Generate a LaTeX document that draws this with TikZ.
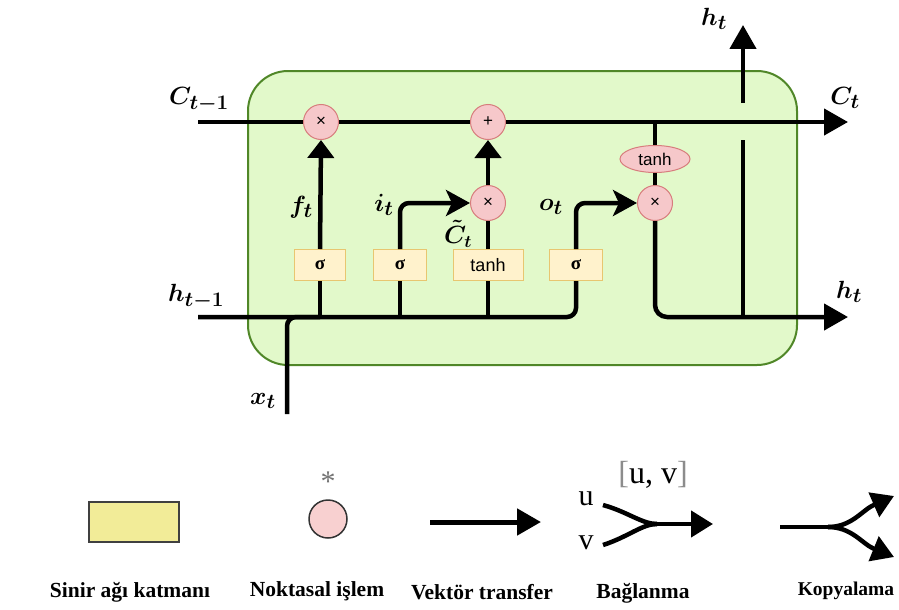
\documentclass[tikz,border=0pt]{standalone}
\usepackage{fontspec}
\setmainfont{Liberation Serif}
\newfontfamily\lsans{Liberation Sans}
\usetikzlibrary{arrows.meta,shapes.geometric}
\definecolor{cellfill}{RGB}{226,249,202}
\definecolor{celldraw}{RGB}{80,135,40}
\definecolor{opfill}{RGB}{246,200,202}
\definecolor{opdraw}{RGB}{215,125,125}
\definecolor{layfill}{RGB}{255,242,204}
\definecolor{laydraw}{RGB}{232,198,112}
\definecolor{legfill}{RGB}{242,236,152}
\definecolor{legcirc}{RGB}{248,208,208}
\tikzset{
  op/.style={circle,draw=opdraw,fill=opfill,line width=1pt,minimum size=35pt,inner sep=0pt,font=\lsans\fontsize{17}{17}\selectfont},
  opell/.style={ellipse,draw=opdraw,fill=opfill,line width=1pt,minimum width=70pt,minimum height=27pt,inner sep=0pt,font=\lsans\fontsize{17}{17}\selectfont},
  layer/.style={rectangle,draw=laydraw,fill=layfill,line width=1pt,minimum height=31pt,inner sep=0pt,font=\bfseries\fontsize{19}{19}\selectfont},
  wire/.style={line width=4.5pt,black},
  bigarr/.style={wire,-{Triangle[length=24pt,width=26pt]}},
  smarr/.style={wire,-{Triangle[length=18pt,width=26pt]}},
  hookarr/.style={wire,rounded corners=9pt,-{Stealth[length=24pt,width=26pt,inset=6pt]}},
  lbl/.style={font=\boldmath\fontsize{28}{28}\selectfont,inner sep=0pt},
  leglbl/.style={font=\bfseries\fontsize{21.5}{21.5}\selectfont,inner sep=0pt},
}
\begin{document}
\begin{tikzpicture}[x=1pt,y=-1pt]
\useasboundingbox (0,0) rectangle (899,610);
% cell
\node[draw=celldraw,fill=cellfill,line width=2pt,rounded corners=40pt,minimum width=549pt,minimum height=294pt,inner sep=0pt] (cell) at (522.5,218) {};
% operators
\node[op] (mf) at (321,122) {×};
\node[op] (pa) at (488,122) {+};
\node[op] (mi) at (488,203) {×};
\node[op] (mo) at (655,203) {×};
\node[opell] (th) at (655,159) {tanh};
% layers
\node[layer,minimum width=51pt] (sf) at (320,265) {σ};
\node[layer,minimum width=53pt] (si) at (400,265) {σ};
\node[layer,minimum width=70pt,font=\lsans\fontsize{18}{18}\selectfont] (tb) at (488,265) {tanh};
\node[layer,minimum width=53pt] (so) at (576,265) {σ};
% coordinates
\coordinate (cin) at (198,122);
\coordinate (cout) at (848,122);
\coordinate (hin) at (198,317);
\coordinate (hout) at (848,317);
\coordinate (xin) at (287,414);
\coordinate (tap) at (655,122);
\coordinate (ulow) at (743,317);
\coordinate (ugap1) at (743,140);
\coordinate (ugap2) at (743,103);
\coordinate (htop) at (743,25);
% cell state line
\draw[wire] (cin) -- (mf.west);
\draw[wire] (mf.east) -- (pa.west);
\draw[bigarr] (pa.east) -- (cout);
% hidden input line
\draw[wire,rounded corners=9pt] (hin) -| (so.south);
\draw[wire,rounded corners=9pt] (xin) |- (sf.south |- hin);
% forget gate
\draw[wire] (sf.south |- hin) -- (sf.south);
\draw[smarr] (sf.north) -- (mf.south);
% input gate
\draw[wire] (si.south |- hin) -- (si.south);
\draw[hookarr] (si.north) |- (mi.west);
% candidate
\draw[wire] (tb.south |- hin) -- (tb.south);
\draw[wire] (tb.north) -- (mi.south);
\draw[smarr] (mi.north) -- (pa.south);
% output gate
\draw[hookarr] (so.north) |- (mo.west);
\draw[wire] (tap) -- (th.north);
\draw[wire] (th.south) -- (mo.north);
\draw[wire,rounded corners=12pt,-{Triangle[length=24pt,width=26pt]}] (mo.south) |- (hout);
% h_t up
\draw[wire,rounded corners=6pt] (ulow) -- (ugap1);
\draw[bigarr] (ugap2) -- (htop);
% labels
\node[lbl] (lc1) at (199,100) {$C_{t-1}$};
\node[lbl] (lh1) at (196,297) {$h_{t-1}$};
\node[lbl] (lf) at (301,207) {$f_t$};
\node[lbl] (li) at (384,205) {$i_t$};
\node[lbl,font=\boldmath\fontsize{25}{25}\selectfont] (lct) at (458,234) {$\tilde{C}_t$};
\node[lbl] (lo) at (551,207) {$o_t$};
\node[lbl] (lx) at (263,401) {$x_t$};
\node[lbl] (lht) at (714,19) {$h_t$};
\node[lbl] (lc) at (845,98) {$C_t$};
\node[lbl] (lh) at (849,292) {$h_t$};
% legend
\node[draw=black!75,fill=legfill,line width=2pt,minimum width=90pt,minimum height=40pt,inner sep=0pt] (lrect) at (133.5,522) {};
\node[circle,draw=black!80,fill=legcirc,line width=1.5pt,minimum size=38pt,inner sep=0pt] (lcirc) at (328,519) {};
\node[text=black!55,font=\fontsize{30}{30}\selectfont,inner sep=0pt] (ast) at (328,482) {*};
\coordinate (v1) at (430,522);
\coordinate (v2) at (541,522);
\draw[line width=5pt,-{Triangle[length=24pt,width=26pt]}] (v1) -- (v2);
\node[font=\fontsize{30}{30}\selectfont,inner sep=0pt] (nu) at (586,499) {u};
\node[font=\fontsize{30}{30}\selectfont,inner sep=0pt] (nv) at (586,543) {v};
\node[font=\fontsize{32}{32}\selectfont,inner sep=0pt] (nuv) at (653,475) {\textcolor{black!45}{[}u, v\textcolor{black!45}{]}};
\coordinate (bu) at (603,505);
\coordinate (bv) at (603,545);
\coordinate (bm) at (657,524);
\coordinate (be) at (713,524);
\draw[line width=4.5pt] (bu) .. controls (628,512) and (642,524) .. (bm);
\draw[line width=4.5pt] (bv) .. controls (628,537) and (642,524) .. (bm);
\draw[line width=4.5pt,-{Triangle[length=22pt,width=26pt]}] (bm) -- (be);
\coordinate (k1) at (780,527);
\coordinate (km) at (828,527);
\coordinate (ku) at (894,496);
\coordinate (kd) at (894,557);
\draw[line width=4.5pt] (k1) -- (km);
\draw[line width=4.5pt,-{Triangle[length=22pt,width=26pt]}] (km) .. controls (852,527) and (862,510) .. (ku);
\draw[line width=4.5pt,-{Triangle[length=22pt,width=26pt]}] (km) .. controls (852,527) and (862,544) .. (kd);
\node[leglbl] (t1) at (130,592) {Sinir ağı katmanı};
\node[leglbl] (t2) at (317,591) {Noktasal işlem};
\node[leglbl] (t3) at (482,592) {Vektör transfer};
\node[leglbl] (t4) at (643,593) {Bağlanma};
\node[leglbl,font=\bfseries\fontsize{19.5}{19.5}\selectfont] (t5) at (846,591) {Kopyalama};
\end{tikzpicture}
\end{document}
